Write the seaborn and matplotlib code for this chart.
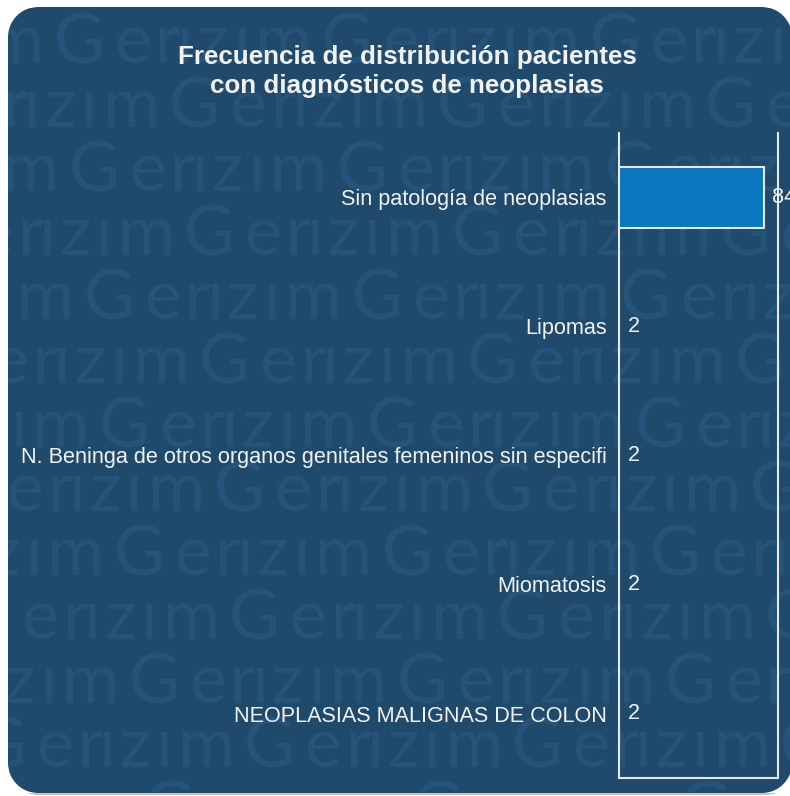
import numpy as np
import matplotlib
matplotlib.use("Agg")
import matplotlib.pyplot as plt
import seaborn as sns
from matplotlib.patches import FancyBboxPatch, Polygon, Rectangle
from matplotlib.transforms import IdentityTransform, Bbox, TransformedBbox

# data
categories = [
    "Sin patología de neoplasias",
    "Lipomas",
    "N. Beninga de otros organos genitales femeninos sin especifi",
    "Miomatosis",
    "NEOPLASIAS MALIGNAS DE COLON",
]
counts = [84, 2, 2, 2, 2]
title_lines = ["Frecuencia de distribución pacientes", "con diagnósticos de neoplasias"]

BG = "#1f4a6b"
MARK = "#26537a"
BAR = "#0a78be"
LINE = "#e6e9ee"
TXT = "#f2f2f2"

W, H = 790, 796
sns.set_theme(style="white")
plt.rcParams["font.family"] = ["Liberation Sans", "DejaVu Sans"]

fig = plt.figure(figsize=(W / 100, H / 100), dpi=100)
fig.patch.set_facecolor("white")
pix = IdentityTransform()

# rounded panel (pixels: x 8..792, y 3..789), with a thin shadow underneath
R = 30
X0, X1, Y0, Y1 = 8, 792, 3, 789
fig.patches.append(FancyBboxPatch((X0 + 2, Y0 - 2), X1 - X0, Y1 - Y0,
                                  boxstyle=f"round,pad=0,rounding_size={R}",
                                  transform=pix, facecolor="#9a9a9a",
                                  edgecolor="none", alpha=0.6, zorder=-3))
fig.patches.append(FancyBboxPatch((X0, Y0), X1 - X0, Y1 - Y0,
                                  boxstyle=f"round,pad=0,rounding_size={R}",
                                  transform=pix, facecolor=BG,
                                  edgecolor="none", zorder=-2))

# watermark
word = "Gerızım"
letter_cx = [29, 82, 117, 135, 163, 192, 233]
period = 268
clip = TransformedBbox(Bbox([[X0, Y0], [X1, Y1]]), pix)
for k in range(13):
    base_y = H - (63 + 64 * k)
    x0 = 50 + 7.5 * k + 108 * (k % 2)
    while x0 > 8:
        x0 -= period
    while x0 < W:
        for ch, cx in zip(word, letter_cx):
            t = fig.text(x0 + cx, base_y, ch, transform=pix, fontsize=50,
                         color=MARK, family="Lato", ha="center",
                         va="baseline", zorder=-1)
            t.set_clip_box(clip)
            t.set_clip_on(True)
        x0 += period

# white corner masks outside the rounded corners
corners = [((X0, Y1), (X0 + R, Y1 - R), 90, 180),
           ((X1, Y1), (X1 - R, Y1 - R), 0, 90),
           ((X0, Y0), (X0 + R, Y0 + R), 180, 270),
           ((X1, Y0), (X1 - R, Y0 + R), 270, 360)]
for corner, (ccx, ccy), a0, a1 in corners:
    ang = np.radians(np.linspace(a0, a1, 30))
    pts = [corner] + list(zip(ccx + R * np.cos(ang), ccy + R * np.sin(ang)))
    fig.patches.append(Polygon(pts, closed=True, transform=pix,
                               facecolor="white", edgecolor="none",
                               zorder=-0.5))

# axes
ax = fig.add_axes([619 / W, 18 / H, 159 / W, 645 / H])
ax.set_facecolor("none")
sns.barplot(x=counts, y=categories, orient="h", color=BAR, width=0.48,
            saturation=1, edgecolor=LINE, linewidth=1.5, ax=ax)
ax.set_xlim(1.97, 92)
ax.set_ylim(4.5, -0.5)
ax.set_xlabel("")
ax.set_ylabel("")
ax.set_xticks([])
ax.tick_params(axis="y", length=0, pad=9, labelsize=15.6, labelcolor=TXT)
for s in ["left", "right", "bottom"]:
    ax.spines[s].set_visible(True)
    ax.spines[s].set_color(LINE)
    ax.spines[s].set_linewidth(1.5)
ax.spines["top"].set_visible(False)

for c in ax.containers:
    ax.bar_label(c, labels=[str(v) for v in counts], padding=6,
                 color=TXT, fontsize=15.6, clip_on=False)

fig.text(407 / W, 1 - 57 / H, title_lines[0], ha="center", va="center",
         fontsize=18.7, fontweight="bold", color=TXT)
fig.text(407 / W, 1 - 86 / H, title_lines[1], ha="center", va="center",
         fontsize=18.7, fontweight="bold", color=TXT)

fig.savefig("out.png", dpi=100, facecolor=fig.get_facecolor())
